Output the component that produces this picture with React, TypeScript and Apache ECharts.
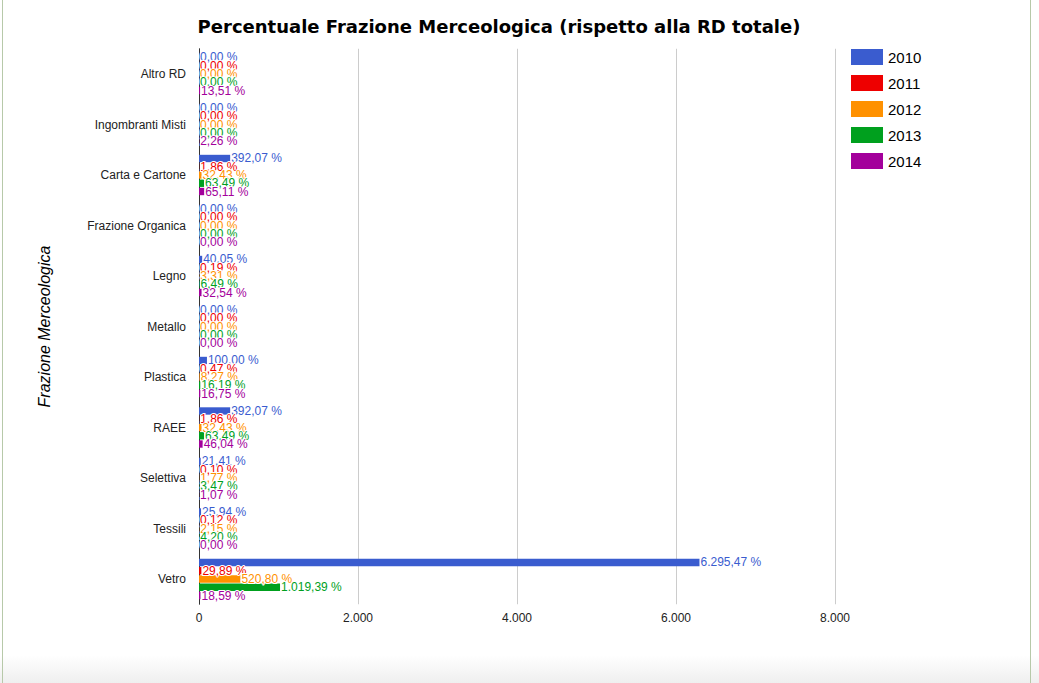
import React, { useEffect, useRef } from "react";
import * as echarts from "echarts";

const categories = [
  "Altro RD",
  "Ingombranti Misti",
  "Carta e Cartone",
  "Frazione Organica",
  "Legno",
  "Metallo",
  "Plastica",
  "RAEE",
  "Selettiva",
  "Tessili",
  "Vetro",
];

const years = ["2010", "2011", "2012", "2013", "2014"];

const v2010 = [0, 0, 392.07, 0, 40.05, 0, 100.0, 392.07, 21.41, 25.94, 6295.47];
const v2011 = [0, 0, 1.86, 0, 0.19, 0, 0.47, 1.86, 0.1, 0.12, 29.89];
const v2012 = [0, 0, 32.43, 0, 3.31, 0, 8.27, 32.43, 1.77, 2.15, 520.8];
const v2013 = [0, 0, 63.49, 0, 6.49, 0, 16.19, 63.49, 3.47, 4.2, 1019.39];
const v2014 = [13.51, 2.26, 65.11, 0, 32.54, 0, 16.75, 46.04, 1.07, 0, 18.59];

const seriesValues = [v2010, v2011, v2012, v2013, v2014];
const colors = ["#3a5ccf", "#ee0000", "#ff9100", "#00a01e", "#a3009b"];

const xTicks = [0, 2000, 4000, 6000, 8000];

function fmtIt(v: number, dec: number): string {
  const s = v.toFixed(dec);
  const [intPart, decPart] = s.split(".");
  const withDots = intPart.replace(/\B(?=(\d{3})+(?!\d))/g, ".");
  return decPart !== undefined ? withDots + "," + decPart : withDots;
}

export default function App() {
  const ref = useRef<HTMLDivElement>(null);
  useEffect(() => {
    if (!ref.current) return;
    const chart = echarts.init(ref.current, undefined, { renderer: "svg" });
    const font = "Arial, 'Liberation Sans', sans-serif";
    chart.setOption({
      animation: false,
      backgroundColor: "#ffffff",
      title: {
        text: "Percentuale Frazione Merceologica (rispetto alla RD totale)",
        left: 494,
        textAlign: "center",
        top: 12,
        textStyle: {
          fontFamily: "'DejaVu Sans', Verdana, sans-serif",
          fontWeight: "bold",
          fontSize: 18,
          color: "#000",
        },
      },
      legend: {
        orient: "vertical",
        left: 846,
        top: 44,
        itemWidth: 32,
        itemHeight: 16,
        itemGap: 10,
        icon: "rect",
        data: years,
        textStyle: { fontFamily: font, fontSize: 15, color: "#000" },
      },
      grid: { left: 199, right: 204, top: 48.75, bottom: 78.75, containLabel: false },
      xAxis: {
        type: "value",
        min: xTicks[0],
        max: xTicks[xTicks.length - 1],
        interval: 2000,
        axisLine: { show: false },
        axisTick: { show: false },
        splitLine: { lineStyle: { color: "#cccccc", width: 1 } },
        axisLabel: {
          fontFamily: font,
          fontSize: 12,
          color: "#222",
          margin: 8,
          formatter: (v: number) => fmtIt(v, 0),
        },
      },
      yAxis: {
        type: "category",
        data: categories,
        inverse: true,
        name: "Frazione Merceologica",
        nameLocation: "middle",
        nameRotate: 90,
        nameGap: 147,
        nameTextStyle: { fontFamily: font, fontSize: 16, fontStyle: "italic", color: "#000" },
        axisLine: { show: true, lineStyle: { color: "#333", width: 1 } },
        axisTick: { show: false },
        splitLine: { show: false },
        axisLabel: { fontFamily: font, fontSize: 12, color: "#222", margin: 13 },
      },
      series: seriesValues.map((vals, i) => ({
        name: years[i],
        type: "bar",
        data: vals,
        barGap: "12%",
        barCategoryGap: "20%",
        itemStyle: { color: colors[i] },
        label: {
          show: true,
          position: "right",
          distance: 1,
          fontFamily: font,
          fontSize: 12,
          color: colors[i],
          textBorderColor: "#fff",
          textBorderWidth: 2,
          formatter: (p: any) => fmtIt(p.value, 2) + " %",
        },
      })),
      graphic: [
        {
          type: "rect",
          left: 0,
          top: 655,
          shape: { width: 1039, height: 28 },
          style: {
            fill: new echarts.graphic.LinearGradient(0, 0, 0, 1, [
              { offset: 0, color: "#ffffff" },
              { offset: 1, color: "#efefef" },
            ]),
          },
          silent: true,
        },
        {
          type: "rect",
          left: 2,
          top: 0,
          shape: { width: 1, height: 683 },
          style: { fill: "#b7c9a9" },
          silent: true,
        },
        {
          type: "rect",
          left: 1030,
          top: 0,
          shape: { width: 1, height: 683 },
          style: { fill: "#b7c9a9" },
          silent: true,
        },
      ],
    });
    return () => chart.dispose();
  }, []);
  return (
    <div
      ref={ref}
      style={{ position: "fixed", left: 0, top: 0, width: 1039, height: 683 }}
    />
  );
}
